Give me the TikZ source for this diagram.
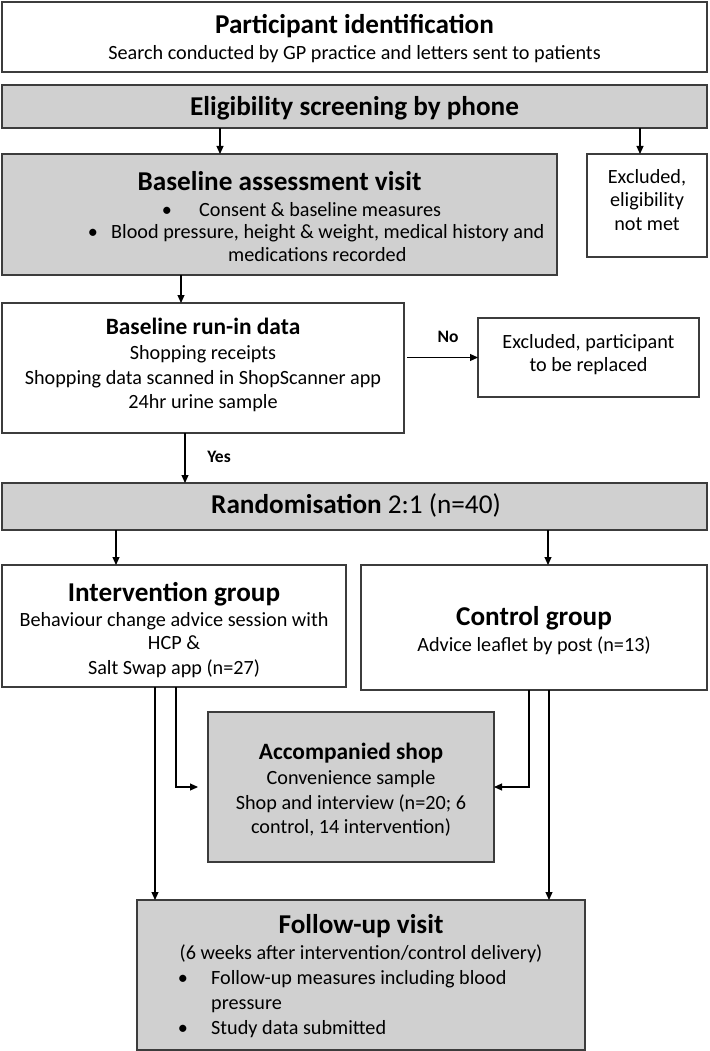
\documentclass[tikz,border=0pt]{standalone}
\usepackage{fontspec}
\setmainfont{Carlito}
\usetikzlibrary{arrows.meta}
\definecolor{boxgray}{RGB}{208,208,208}
\definecolor{edge}{RGB}{60,60,60}
\tikzset{
  box/.style={draw=edge, line width=1.1pt, inner sep=0pt, outer sep=0pt, fill=white},
  gbox/.style={box, fill=boxgray},
  txt/.style={inner sep=0pt, anchor=base},
  txtw/.style={inner sep=0pt, anchor=base west},
  arr/.style={line width=1.1pt, -{Triangle[length=8pt,width=7pt]}},
  big/.style={font=\fontsize{27.2}{30}\selectfont\bfseries},
  sub/.style={font=\fontsize{23.4}{28}\selectfont\bfseries},
  body/.style={font=\fontsize{20.2}{24}\selectfont},
  lab/.style={font=\fontsize{17.5}{20}\selectfont\bfseries},
}
\begin{document}
\begin{tikzpicture}[x=1pt,y=-1pt]
\useasboundingbox (0,0) rectangle (709,1051);
% boxes
\node[box, minimum width=705pt, minimum height=70pt] (b1) at (354.5,37) {};
\node[gbox, minimum width=705pt, minimum height=43pt] (b2) at (354.5,106.5) {};
\node[gbox, minimum width=555pt, minimum height=121pt] (base) at (279.5,214.5) {};
\node[box, minimum width=120pt, minimum height=103pt] (ex1) at (647,205.5) {};
\node[box, minimum width=402pt, minimum height=130pt] (run) at (203,368) {};
\node[box, minimum width=221pt, minimum height=79pt] (ex2) at (588.5,357.5) {};
\node[gbox, minimum width=705pt, minimum height=47pt] (rand) at (354.5,506.5) {};
\node[box, minimum width=344pt, minimum height=122pt] (int) at (174,626) {};
\node[box, minimum width=346pt, minimum height=125pt] (ctl) at (534,627.5) {};
\node[gbox, minimum width=286pt, minimum height=150pt] (acc) at (351,787) {};
\node[gbox, minimum width=448pt, minimum height=150pt] (fu) at (361,975) {};
% texts box 1
\node[txt, big] (t1a) at (354.5,33.5) {Participant identification};
\node[txt, body] (t1b) at (354.5,59.5) {Search conducted by GP practice and letters sent to patients};
% box 2
\node[txt, big] (t2a) at (354.5,115.5) {Eligibility screening by phone};
% baseline
\node[txt, big] (t3a) at (279.5,190.5) {Baseline assessment visit};
\node[txt, body] (t3b1) at (167,216.5) {•};
\node[txtw, body] (t3b) at (199,216.5) {Consent \& baseline measures};
\node[txt, body] (t3c1) at (93,238.5) {•};
\node[txtw, body] (t3c) at (111,238.5) {Blood pressure, height \& weight, medical history and};
\node[txtw, body] (t3d) at (228,261.5) {medications recorded};
% excluded 1
\node[txt, body] (t4a) at (647,183) {Excluded,};
\node[txt, body] (t4b) at (647,206.5) {eligibility};
\node[txt, body] (t4c) at (647,230) {not met};
% run-in
\node[txt, sub] (t5a) at (203,334.5) {Baseline run-in data};
\node[txt, body] (t5b) at (203,359.5) {Shopping receipts};
\node[txt, body] (t5c) at (203,384.5) {Shopping data scanned in ShopScanner app};
\node[txt, body] (t5d) at (203,408.5) {24hr urine sample};
% excluded 2
\node[txt, body] (t6a) at (588.5,348.5) {Excluded, participant};
\node[txt, body] (t6b) at (588.5,371.5) {to be replaced};
% labels
\node[txt, lab] (no) at (448,342.5) {No};
\node[txt, lab] (yes) at (219,462.5) {Yes};
% randomisation
\node[txt, font=\fontsize{27.2}{30}\selectfont] (t7) at (356,513.5) {\textbf{Randomisation} 2:1 (n=40)};
% intervention
\node[txt, big] (t8a) at (174,601.5) {Intervention group};
\node[txt, body] (t8b) at (174,626.5) {Behaviour change advice session with};
\node[txt, body] (t8c) at (174,649.5) {HCP \&};
\node[txt, body] (t8d) at (174,674.5) {Salt Swap app (n=27)};
% control
\node[txt, big] (t9a) at (534,625.5) {Control group};
\node[txt, body] (t9b) at (534,651.5) {Advice leaflet by post (n=13)};
% accompanied
\node[txt, sub] (t10a) at (351,759.5) {Accompanied shop};
\node[txt, body] (t10b) at (351,784.5) {Convenience sample};
\node[txt, body] (t10c) at (351,809.5) {Shop and interview (n=20; 6};
\node[txt, body] (t10d) at (351,833.5) {control, 14 intervention)};
% follow-up
\node[txt, big] (t11a) at (361,933.5) {Follow-up visit};
\node[txt, body] (t11b) at (361,959.5) {(6 weeks after intervention/control delivery)};
\node[txt, body] (t11c1) at (183,984.5) {•};
\node[txtw, body] (t11c) at (211,984.5) {Follow-up measures including blood};
\node[txtw, body] (t11d) at (211,1009.5) {pressure};
\node[txt, body] (t11e1) at (183,1034.5) {•};
\node[txtw, body] (t11e) at (211,1034.5) {Study data submitted};
% connectors
\draw[arr] ([xshift=-134.5pt]b2.south) -- ([xshift=-59.5pt]base.north);
\draw[arr] ([xshift=285.5pt]b2.south) -- ([xshift=-7pt]ex1.north);
\draw[arr] ([xshift=-98.5pt]base.south) -- ([xshift=-22pt]run.north);
\draw[arr, shorten <=3pt] (run.east |- ex2.west) -- (ex2.west);
\draw[arr] ([xshift=-18pt]run.south) -- ([xshift=-169.5pt]rand.north);
\draw[arr] ([xshift=-238.5pt]rand.south) -- ([xshift=-58pt]int.north);
\draw[arr] ([xshift=193.5pt]rand.south) -- ([xshift=14pt]ctl.north);
\draw[arr, shorten >=10pt] ([xshift=2pt]int.south) |- (acc.west);
\draw[arr] ([xshift=-5pt]ctl.south) |- (acc.east);
\draw[arr] ([xshift=-19pt]int.south) -- ([xshift=-19pt]int.south |- fu.north);
\draw[arr] ([xshift=15pt]ctl.south) -- ([xshift=15pt]ctl.south |- fu.north);
\end{tikzpicture}
\end{document}
